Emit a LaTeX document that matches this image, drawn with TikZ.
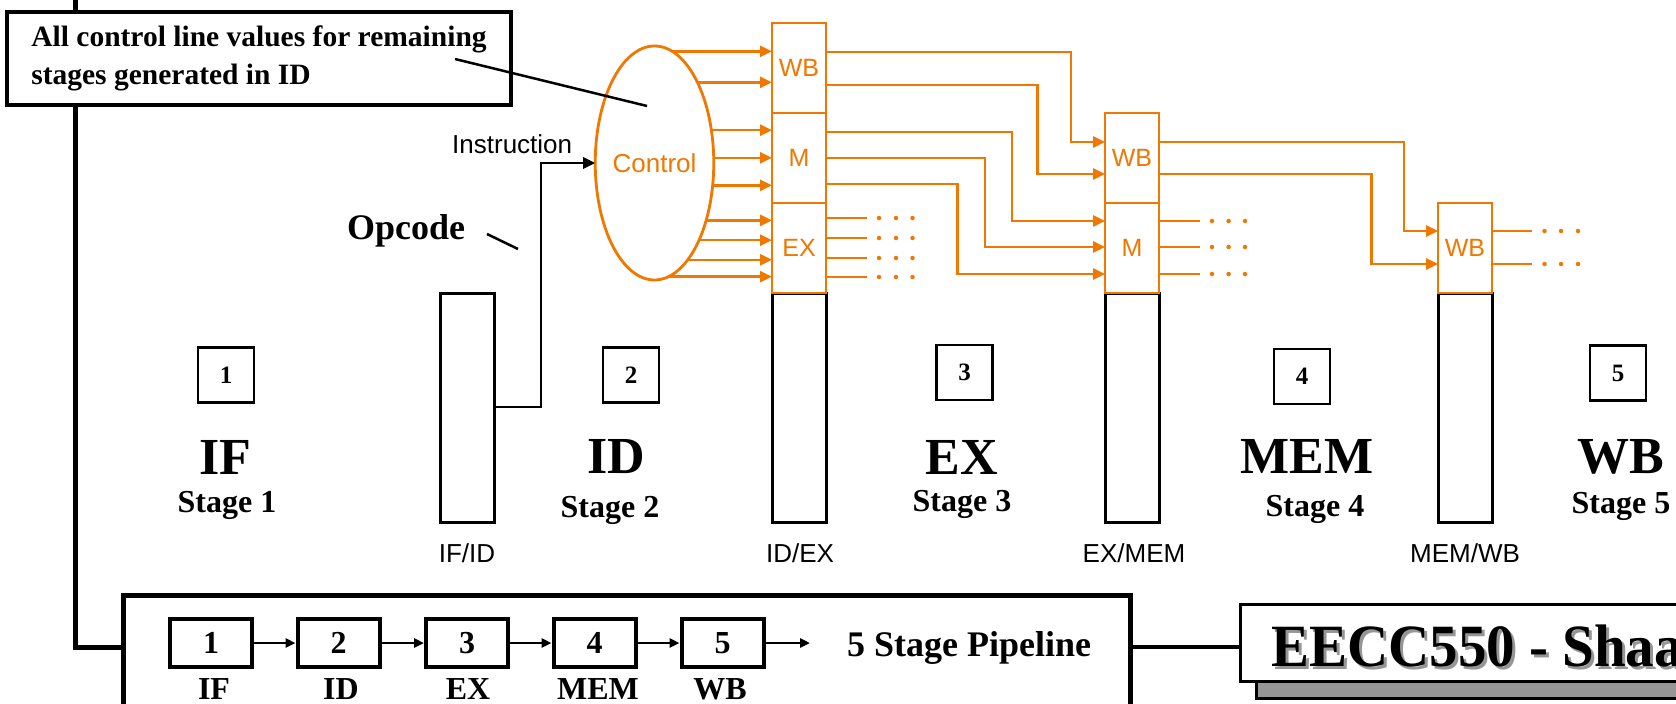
\documentclass[tikz,border=0pt]{standalone}
\usepackage{fontspec}
\setmainfont{Liberation Serif}
\newfontfamily\hsans{Liberation Sans}
\usetikzlibrary{shapes.geometric,arrows.meta}
\definecolor{ctlorange}{RGB}{240,120,0}
\definecolor{shadowgray}{RGB}{150,150,150}
\newcommand\myfs[1]{\fontsize{#1}{#1}\selectfont}
\begin{document}
\begin{tikzpicture}[x=1pt,y=-1pt,
  reg/.style={draw, line width=3pt, minimum width=54pt, minimum height=229pt, inner sep=0pt, outer sep=0pt, anchor=north west},
  obox/.style={draw=ctlorange, line width=2.5pt, minimum width=54pt, minimum height=90pt, inner sep=0pt, outer sep=0pt, anchor=north west, text=ctlorange, font=\hsans\myfs{25}},
  oarr/.style={draw=ctlorange, line width=2.5pt, -{Triangle[length=12pt,width=11pt]}},
  oline/.style={draw=ctlorange, line width=2.5pt},
  odot/.style={fill=ctlorange, circle, inner sep=0pt, minimum size=4.5pt},
  numbox/.style={draw, line width=2.5pt, minimum width=56pt, minimum height=55pt, inner sep=0pt, font=\myfs{25}\bfseries},
  bignm/.style={anchor=base, font=\myfs{52}\bfseries, inner sep=0pt},
  stg/.style={anchor=base, font=\myfs{32}\bfseries, inner sep=0pt},
  reglbl/.style={anchor=base, font=\hsans\myfs{26}, inner sep=0pt},
  pbox/.style={draw, line width=4pt, minimum width=82pt, minimum height=48pt, inner sep=0pt, font=\myfs{32}\bfseries},
  plbl/.style={anchor=base, font=\myfs{32}\bfseries, inner sep=0pt},
  parr/.style={line width=2.5pt, -{Triangle[length=10pt,width=9pt]}}
]
\clip (0,0) rectangle (1676,704);
\fill[white] (0,0) rectangle (1676,704);

% ---------- bottom pipeline box & left bus ----------
\node[draw, line width=5pt, minimum width=1007pt, minimum height=200pt, inner sep=0pt, outer sep=0pt, anchor=north west, fill=white] (pipebox) at (123,595) {};
\coordinate (bustop) at (75,0);
\draw[line width=5pt] (bustop) -- (75,647) -- (pipebox.west |- 0,647);

% ---------- callout ----------
\node[draw, line width=4pt, fill=white, minimum width=504pt, minimum height=93pt, anchor=north west, align=left, inner sep=0pt, font=\fontsize{29.5}{36}\selectfont\bfseries] (callout) at (5,10)
  {All control line values for remaining\\[2pt]stages generated in ID};

% ---------- control ellipse ----------
\node[ellipse, draw=ctlorange, line width=2.8pt, minimum width=111pt, minimum height=234pt, inner sep=0pt, outer sep=0pt, text=ctlorange, font=\hsans\myfs{26}] (ctrl) at (654.5,163) {Control};

\coordinate (cpA) at (455,59);
\coordinate (cpB) at (647,106);
\draw[line width=2.5pt] (cpA) -- (cpB);

% ---------- pipeline registers ----------
\node[reg] (ifid)  at (440,293) {};
\node[reg] (idex)  at (772,293) {};
\node[reg] (exmem) at (1105,293) {};
\node[reg] (memwb) at (1438,293) {};

\node[reglbl] at (467,562) {IF/ID};
\node[reglbl] at (800,562) {ID/EX};
\node[reglbl] at (1134,562) {EX/MEM};
\node[reglbl] at (1465,562) {MEM/WB};

% orange control fields
\node[obox] (idexwb) at (772,23) {WB};
\node[obox] (idexm)  at (772,113) {M};
\node[obox] (idexex) at (772,203) {EX};
\node[obox] (exmemwb) at (1105,113) {WB};
\node[obox] (exmemm)  at (1105,203) {M};
\node[obox] (memwbwb) at (1438,203) {WB};

% instruction wire
\draw[line width=2.8pt, -{Triangle[length=12pt,width=11pt]}] (ifid.east |- 0,407) -- (541,407) -- (541,163) -- (ctrl.west);
\node[anchor=base west, inner sep=0pt, font=\hsans\myfs{26}] (instr) at (452,153) {Instruction};

% opcode
\node[anchor=base west, inner sep=0pt, font=\myfs{36}\bfseries] (opc) at (347,239) {Opcode};
\coordinate (opA) at (487,234);
\coordinate (opB) at (518,249);
\draw[line width=2.5pt] (opA) -- (opB);

% control outputs into ID/EX
\foreach \yy/\tgt in {52/idexwb,85/idexwb,132/idexm,158/idexm,184/idexm,218/idexex,238/idexex,258/idexex,277/idexex}{
  \pgfmathsetmacro\dd{(\yy-163)/117}
  \pgfmathsetmacro\ang{atan2(-(\yy-163), 55.5*sqrt(1-\dd*\dd))}
  \draw[oarr] (ctrl.\ang) -- (\tgt.west |- ctrl.\ang);
}

% ID/EX -> EX/MEM
\draw[oarr] (idexwb.east |- 0,52) -- (1071,52) -- (1071,142) -- (exmemwb.west |- 0,142);
\draw[oarr] (idexwb.east |- 0,85) -- (1037.5,85) -- (1037.5,174) -- (exmemwb.west |- 0,174);
\draw[oarr] (idexm.east |- 0,132) -- (1012,132) -- (1012,221) -- (exmemm.west |- 0,221);
\draw[oarr] (idexm.east |- 0,158) -- (985,158) -- (985,247) -- (exmemm.west |- 0,247);
\draw[oarr] (idexm.east |- 0,184) -- (957.5,184) -- (957.5,274) -- (exmemm.west |- 0,274);

% EX outputs (continue)
\foreach \yy in {218,238,258,277}{
  \draw[oline] (idexex.east |- 0,\yy) -- (867,\yy);
  \foreach \xx in {879,896,912.5} \node[odot] at (\xx,\yy) {};
}

% EX/MEM -> MEM/WB
\draw[oarr] (exmemwb.east |- 0,142) -- (1404,142) -- (1404,231) -- (memwbwb.west |- 0,231);
\draw[oarr] (exmemwb.east |- 0,174) -- (1371.5,174) -- (1371.5,264) -- (memwbwb.west |- 0,264);

\foreach \yy in {221,247,274}{
  \draw[oline] (exmemm.east |- 0,\yy) -- (1200,\yy);
  \foreach \xx in {1212,1228.6,1245} \node[odot] at (\xx,\yy) {};
}
\foreach \yy in {231,264}{
  \draw[oline] (memwbwb.east |- 0,\yy) -- (1532,\yy);
  \foreach \xx in {1544.5,1561,1578} \node[odot] at (\xx,\yy) {};
}

% ---------- stage labels ----------
\node[numbox] (n1) at (226,375) {1};
\node[numbox] (n2) at (631,375) {2};
\node[numbox] (n3) at (964.5,372.5) {3};
\node[numbox] (n4) at (1302,376.5) {4};
\node[numbox] (n5) at (1618,373) {5};

\node[bignm] at (225,474) {IF};
\node[bignm] at (616,473) {ID};
\node[bignm] at (962,474) {EX};
\node[bignm] at (1307,473) {MEM};
\node[bignm] at (1621,473) {WB};

\node[stg] at (227,512) {Stage 1};
\node[stg] at (610,517) {Stage 2};
\node[stg] at (962,511) {Stage 3};
\node[stg] at (1315,516) {Stage 4};
\node[stg] at (1621,513) {Stage 5};

% ---------- bottom mini pipeline ----------
\node[pbox] (p1) at (211,643) {1};
\node[pbox] (p2) at (338.5,643) {2};
\node[pbox] (p3) at (467,643) {3};
\node[pbox] (p4) at (594.5,643) {4};
\node[pbox] (p5) at (722.5,643) {5};
\coordinate (pend) at (810,643);
\draw[parr] (p1) -- (p2);
\draw[parr] (p2) -- (p3);
\draw[parr] (p3) -- (p4);
\draw[parr] (p4) -- (p5);
\draw[parr] (p5) -- (pend);
\node[plbl] at (214,699) {IF};
\node[plbl] at (341,699) {ID};
\node[plbl] at (468,699) {EX};
\node[plbl] at (598,699) {MEM};
\node[plbl] at (720,699) {WB};
\node[anchor=base west, inner sep=0pt, font=\myfs{36}\bfseries] (pipelbl) at (847,656) {5 Stage Pipeline};

% ---------- title ----------
\node[draw, line width=2.5pt, fill=shadowgray, minimum width=500pt, minimum height=77pt, anchor=north west, inner sep=0pt] (tshadow) at (1255,620) {};
\node[draw, line width=3pt, fill=white, minimum width=500pt, minimum height=77pt, anchor=north west, inner sep=0pt] (titlebox) at (1239,603) {};
\draw[line width=4pt] (pipebox.east |- 0,647) -- (titlebox.west |- 0,647);
\node[anchor=base west, inner sep=0pt, text=shadowgray, font=\myfs{60}\bfseries] at (1274,669) {\scalebox{0.95}[1]{EECC550 - Shaaban}};
\node[anchor=base west, inner sep=0pt, font=\myfs{60}\bfseries] (ttl) at (1271,666) {\scalebox{0.95}[1]{EECC550 - Shaaban}};
\end{tikzpicture}
\end{document}
